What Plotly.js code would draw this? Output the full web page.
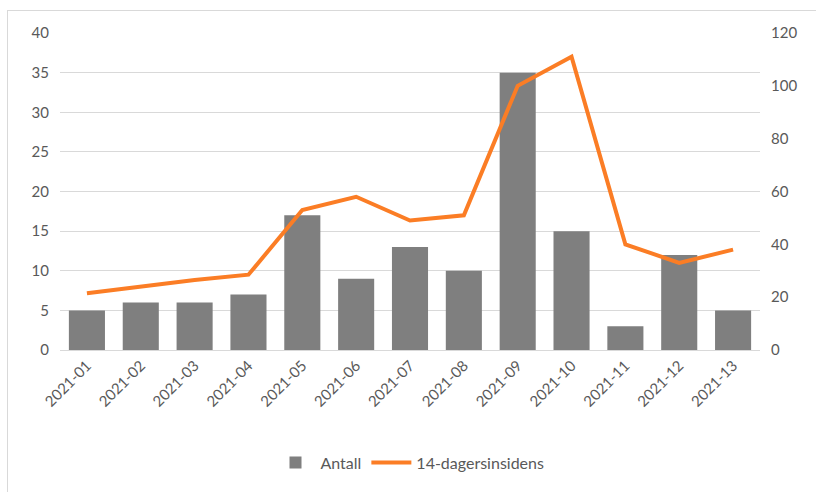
<!DOCTYPE html>
<html><head><meta charset="utf-8">
<script src="https://cdn.plot.ly/plotly-3.0.1.min.js"></script>
<style>
html,body{margin:0;padding:0;background:#fff;}
#frame{position:absolute;left:7px;top:10px;width:830px;height:500px;border:1px solid #d9d9d9;box-sizing:border-box;}
#chart{position:absolute;left:0;top:0;width:816px;height:492px;}
</style></head>
<body>
<div id="frame"></div>
<div id="chart"></div>
<script>
const categories = ["2021-01","2021-02","2021-03","2021-04","2021-05","2021-06","2021-07","2021-08","2021-09","2021-10","2021-11","2021-12","2021-13"];
const antall = [5,6,6,7,17,9,13,10,35,15,3,12,5];
const insidens = [21.5,24,26.5,28.5,53,58,49,51,100,111,40,33,38];
const leftTicks = [0,5,10,15,20,25,30,35,40];
const rightTicks = [0,20,40,60,80,100,120];

const fontFam = "Lato, 'Open Sans', sans-serif";
const data = [
  {type:"bar", name:"Antall", x:categories, y:antall, marker:{color:"#7f7f7f"}, yaxis:"y"},
  {type:"scatter", mode:"lines", name:"14-dagersinsidens", x:categories, y:insidens,
   line:{color:"#fb7d25", width:4}, yaxis:"y2"}
];
const layout = {
  width:816, height:492,
  paper_bgcolor:"rgba(0,0,0,0)", plot_bgcolor:"rgba(0,0,0,0)",
  margin:{l:60, r:56, t:33, b:140},
  bargap:0.33,
  font:{family:fontFam, size:15, color:"#595959"},
  showlegend:true,
  legend:{orientation:"h", x:0.5, xanchor:"center", y:-0.355, yanchor:"middle", font:{size:16, color:"#595959"}, traceorder:"normal", itemwidth:40},
  xaxis:{type:"category", tickangle:-45, showgrid:false, showline:true, linecolor:"#d9d9d9", ticks:"", tickfont:{size:15}, fixedrange:true},
  yaxis:{range:[0,40], tickvals:leftTicks, showgrid:true, gridcolor:"#d9d9d9", zeroline:false, ticks:"", ticklabelstandoff:10, tickfont:{size:15}},
  yaxis2:{range:[0,120], tickvals:rightTicks, overlaying:"y", side:"right", showgrid:false, zeroline:false, ticks:"", ticklabelstandoff:10, tickfont:{size:15}}
};
Plotly.newPlot("chart", data, layout, {displayModeBar:false, staticPlot:true});
</script>
</body></html>
